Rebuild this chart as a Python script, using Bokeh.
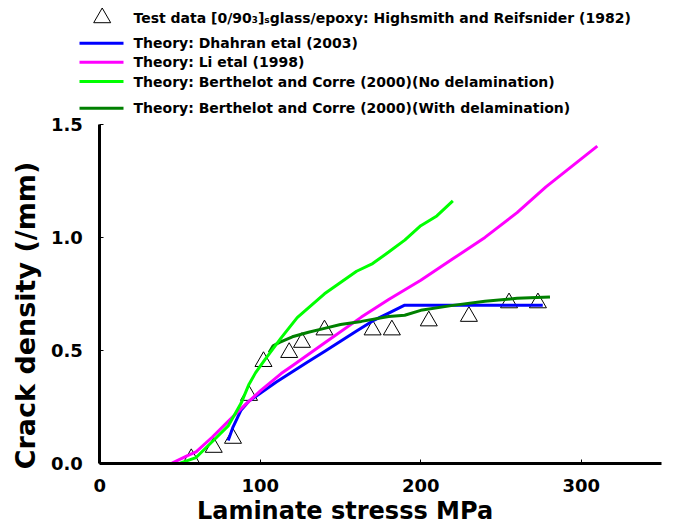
import math
from bokeh.plotting import figure
from bokeh.models import Range1d, FixedTicker, Label
from bokeh.core.properties import value
from bokeh.embed import file_html
from bokeh.resources import INLINE

# ---------------- data ----------------
test_stress = [57, 71, 83, 93, 102, 118, 126, 140, 170, 182, 205, 230, 255, 273]
test_density = [0.02, 0.07, 0.11, 0.30, 0.45, 0.49, 0.535, 0.59, 0.59, 0.59, 0.63, 0.65, 0.71, 0.71]

dhahran_stress = [80, 83, 88, 93, 100, 110, 120, 130, 140, 150, 160, 170, 180, 190, 276]
dhahran_density = [0.10, 0.16, 0.235, 0.275, 0.31, 0.36, 0.405, 0.45, 0.495, 0.54, 0.585, 0.63, 0.665, 0.70, 0.70]

li_stress = [45, 55, 60, 70, 80, 90, 100, 113, 120, 140, 163, 180, 200, 220, 240, 260, 278, 310]
li_density = [0.0, 0.035, 0.05, 0.115, 0.185, 0.255, 0.32, 0.397, 0.432, 0.532, 0.647, 0.725, 0.81, 0.905, 1.0, 1.11, 1.224, 1.404]

bc_nodel_stress = [50, 60, 70, 80, 88, 93, 97, 103, 113, 123, 140, 150, 160, 170, 180, 190, 200, 210, 220]
bc_nodel_density = [0.0, 0.025, 0.095, 0.165, 0.265, 0.35, 0.40, 0.46, 0.555, 0.645, 0.75, 0.80, 0.85, 0.884, 0.935, 0.988, 1.052, 1.095, 1.162]

bc_del_stress = [105.5, 108, 112, 120, 130, 140, 150, 163, 180, 190, 200, 220, 240, 260, 280.5]
bc_del_density = [0.49, 0.52, 0.535, 0.56, 0.58, 0.597, 0.614, 0.628, 0.65, 0.655, 0.677, 0.699, 0.717, 0.73, 0.736]

x_ticks = [0, 100, 200, 300]
y_ticks = [0.0, 0.5, 1.0, 1.5]
y_tick_labels = ["0.0", "0.5", "1.0", "1.5"]

legend_labels = [
    "Test data [0/90\u2083]\u209bglass/epoxy: Highsmith and Reifsnider (1982)",
    "Theory: Dhahran etal (2003)",
    "Theory: Li etal (1998)",
    "Theory: Berthelot and Corre (2000)(No delamination)",
    "Theory: Berthelot and Corre (2000)(With delamination)",
]
series_colors = ["#0000FF", "#FF00FF", "#00FF00", "#008000"]

FONT_NAME = "DejaVu Sans"

# ---------------- layout geometry (canvas pixels) ----------------
W, H = 680, 526
X0_PX, X1_PX = 99.3, 661.0      # where stress 0 and 350 fall
Y0_PX, Y1_PX = 462.7, 124.0     # where density 0 and 1.5 fall
XMAX, YMAX = 350.0, 1.5
sx = (X1_PX - X0_PX) / XMAX
sy = (Y0_PX - Y1_PX) / YMAX
x_lo = -X0_PX / sx
x_hi = XMAX + (W - X1_PX) / sx
y_lo = -(H - Y0_PX) / sy
y_hi = YMAX + Y1_PX / sy


def DX(cx):
    return x_lo + cx / sx


def DY(cy):
    return y_hi - cy / sy


p = figure(width=W, height=H, output_backend="svg", toolbar_location=None,
           x_range=Range1d(x_lo, x_hi), y_range=Range1d(y_lo, y_hi),
           min_border=0, min_border_left=0, min_border_right=0,
           min_border_top=0, min_border_bottom=0)
p.outline_line_color = None
p.xgrid.visible = False
p.ygrid.visible = False

# data
p.scatter(x=test_stress, y=test_density, marker="triangle", size=17,
          fill_color=None, line_color="black", line_width=1)
p.line(x=dhahran_stress, y=dhahran_density, line_color=series_colors[0], line_width=3)
p.line(x=li_stress, y=li_density, line_color=series_colors[1], line_width=3)
p.line(x=bc_del_stress, y=bc_del_density, line_color=series_colors[3], line_width=3)
p.line(x=bc_nodel_stress, y=bc_nodel_density, line_color=series_colors[2], line_width=3)

# axes drawn at the data origin
for ax in (p.xaxis[0], p.yaxis[0]):
    ax.axis_line_width = 3
    ax.axis_line_color = "black"
    ax.major_tick_in = 4
    ax.major_tick_out = 0
    ax.major_tick_line_color = "black"
    ax.minor_tick_line_color = None
    ax.major_label_text_font = FONT_NAME
    ax.major_label_text_font_style = "bold"
    ax.major_label_text_font_size = "18px"
    ax.major_label_text_color = "black"
    ax.fixed_location = 0
p.xaxis[0].bounds = (0, XMAX)
p.yaxis[0].bounds = (0, YMAX)
p.xaxis[0].ticker = FixedTicker(ticks=x_ticks)
p.yaxis[0].ticker = FixedTicker(ticks=y_ticks)
p.yaxis[0].major_label_overrides = {t: s for t, s in zip(y_ticks, y_tick_labels)}
p.xaxis[0].major_label_standoff = 16
p.yaxis[0].major_label_standoff = 17

# axis titles
p.add_layout(Label(x=DX(344.5), y=DY(510), text="Laminate stresss MPa", text_font=FONT_NAME,
                   text_font_style="bold", text_font_size="24px", text_align="center",
                   text_baseline="middle", text_color="black"))
p.add_layout(Label(x=DX(25), y=DY(315), text="Crack density (/mm)", text_font=FONT_NAME,
                   text_font_style="bold", text_font_size="27px", text_align="center",
                   text_baseline="middle", angle=math.pi / 2, text_color="black"))

# legend (top strip)
rows = [17.3, 42.7, 61.7, 81.0, 107.7]
p.scatter(x=[DX(101.7)], y=[DY(rows[0])], marker="triangle", size=17,
          fill_color=None, line_color="black", line_width=1)
for yy, c in zip(rows[1:], series_colors):
    p.line(x=[DX(79), DX(123)], y=[DY(yy), DY(yy)], line_color=c, line_width=3)
p.text(x=[DX(133)] * 5, y=[DY(r) for r in rows], text=legend_labels, text_font=value(FONT_NAME),
       text_font_style="bold", text_font_size="14px",
       text_baseline="middle", text_align="left", text_color="black")

open("out.html", "w").write(file_html(p, INLINE))
